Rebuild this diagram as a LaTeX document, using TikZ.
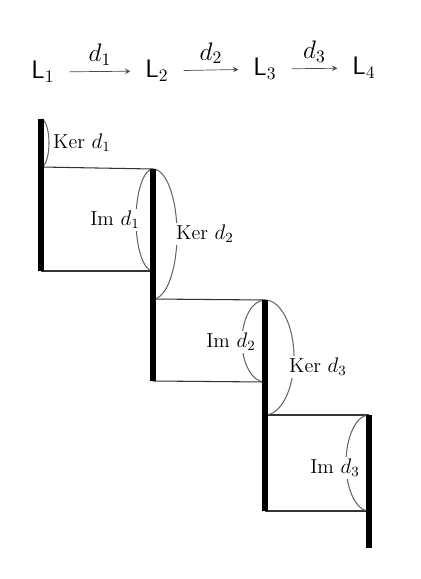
\documentclass[tikz,border=0pt]{standalone}
\usepackage{tikz}
\usetikzlibrary{arrows, arrows.meta}
\usepackage{amsmath}
\tikzset{
    >=stealth, % Nice arrowheads
    bar/.style={line width=3.4pt}, % thick vertical bars
    boxline/.style={black!80, line width=0.6pt}, % sides of the boxes
    rim/.style={black!60, line width=0.6pt}, % half ellipses
    tag/.style={fill=white, inner sep=1pt, font=\fontsize{11.5}{13}\selectfont}, % labels on the rims
    map/.style={->, black!70, shorten <=5pt, shorten >=5pt}, % arrows of the sequence
}

\begin{document}
\begin{tikzpicture}[x=0.02cm, y=0.02cm]
  \useasboundingbox (0,0) rectangle (421,-579);

  % the sequence
  \node (L1) at (43,-72) {\Large $\mathsf{L}_1$};
  \node (L2) at (157,-71) {\Large $\mathsf{L}_2$};
  \node (L3) at (265,-69) {\Large $\mathsf{L}_3$};
  \node (L4) at (364,-68) {\Large $\mathsf{L}_4$};
  \draw[map] (L1) -- node[above, black] {\Large $d_1$} (L2);
  \draw[map] (L2) -- node[above, black] {\Large $d_2$} (L3);
  \draw[map] (L3) -- node[above, black] {\Large $d_3$} (L4);

  % ends of the bars
  \coordinate (a1) at (41,-119);
  \coordinate (a2) at (41,-167);
  \coordinate (a3) at (41,-271);
  \coordinate (b1) at (153,-169);
  \coordinate (b2) at (153,-271);
  \coordinate (b3) at (153,-299);
  \coordinate (b4) at (153,-381);
  \coordinate (c1) at (265,-300);
  \coordinate (c2) at (265,-382);
  \coordinate (c3) at (265,-415);
  \coordinate (c4) at (265,-511);
  \coordinate (e1) at (369,-415);
  \coordinate (e2) at (369,-511);
  \coordinate (e3) at (369,-548);

  % boxes
  \draw[boxline] (a2) -- (b1);
  \draw[boxline] (a3) -- (b2);
  \draw[boxline] (b3) -- (c1);
  \draw[boxline] (b4) -- (c2);
  \draw[boxline] (c3) -- (e1);
  \draw[boxline] (c4) -- (e2);

  % kernels and images
  \draw[rim] (a1) arc[start angle=90, end angle=-90, x radius=8, y radius=24];
  \draw[rim] (b1) arc[start angle=90, end angle=270, x radius=17, y radius=51];
  \draw[rim] (b1) arc[start angle=90, end angle=-90, x radius=24, y radius=65];
  \draw[rim] (c1) arc[start angle=90, end angle=270, x radius=23, y radius=41];
  \draw[rim] (c1) arc[start angle=90, end angle=-90, x radius=29, y radius=57.5];
  \draw[rim] (e1) arc[start angle=90, end angle=270, x radius=23, y radius=48];

  \node[tag, inner sep=0.3pt] (k1) at (82,-143) {Ker $d_1$};
  \node[tag] (i1) at (115,-220) {Im $d_1$};
  \node[tag] (k2) at (205,-234) {Ker $d_2$};
  \node[tag] (i2) at (231,-342) {Im $d_2$};
  \node[tag] (k3) at (318,-367) {Ker $d_3$};
  \node[tag] (i3) at (335,-468) {Im $d_3$};

  % bars
  \draw[bar] (a1) -- (a3);
  \draw[bar] (b1) -- (b4);
  \draw[bar] (c1) -- (c4);
  \draw[bar] (e1) -- (e3);
\end{tikzpicture}
\end{document}
